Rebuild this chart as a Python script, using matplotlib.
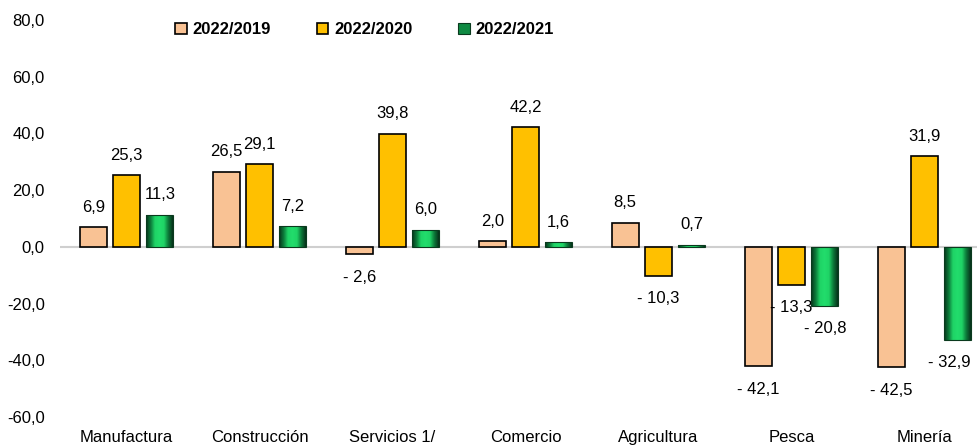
import numpy as np
import matplotlib
matplotlib.use("Agg")
import matplotlib.pyplot as plt
import matplotlib.patches as mpatches
from matplotlib.colors import LinearSegmentedColormap

plt.rcParams['font.family'] = ['Liberation Sans Narrow', 'Liberation Sans', 'DejaVu Sans']

categories = ['Manufactura', 'Construcción', 'Servicios 1/', 'Comercio',
              'Agricultura', 'Pesca', 'Minería']
series_names = ['2022/2019', '2022/2020', '2022/2021']
v2019 = [6.9, 26.5, -2.6, 2.0, 8.5, -42.1, -42.5]
v2020 = [25.3, 29.1, 39.8, 42.2, -10.3, -13.3, 31.9]
v2021 = [11.3, 7.2, 6.0, 1.6, 0.7, -20.8, -32.9]
yticks = [-60, -40, -20, 0, 20, 40, 60, 80]

PEACH = '#F9C294'
GOLD = '#FFC000'
GREEN = '#0f8a42'

green_cmap = LinearSegmentedColormap.from_list(
    'grn', ['#06331a', '#0c7a3a', '#1fd466', '#22dd6c', '#1fd466', '#0c7a3a', '#06331a'])


def fmt(v):
    s = f"{abs(v):.1f}".replace('.', ',')
    return f"- {s}" if v < 0 else s


fig = plt.figure(figsize=(9.77, 4.48), dpi=100)
# axes run a bit past the right edge, like the original
ax = fig.add_axes([60 / 977, 31 / 448, 931 / 977, 397 / 448])

x = np.arange(len(categories))
w = 0.2
step = 0.25

ax.bar(x - step, v2019, w, color=PEACH, edgecolor='black', lw=1.2, zorder=3)
ax.bar(x, v2020, w, color=GOLD, edgecolor='black', lw=1.2, zorder=3)
gbars = ax.bar(x + step, v2021, w, color='none', edgecolor='#0a3a1e', lw=0.8, zorder=4)

grad = np.linspace(0, 1, 64).reshape(1, -1)
for b in gbars:
    x0, y0 = b.get_x(), b.get_y()
    bw, bh = b.get_width(), b.get_height()
    im = ax.imshow(grad, cmap=green_cmap, aspect='auto', zorder=3.5,
                   extent=[x0, x0 + bw, min(y0, y0 + bh), max(y0, y0 + bh)])
    im.set_clip_path(b)

ax.axhline(0, color='#cfcfcf', lw=1.5, zorder=2)

xmax = 6.5
for vals, off in zip([v2019, v2020, v2021], [-step, 0, step]):
    for xi, v in zip(x, vals):
        # keep the label of the last bar inside the figure
        dx = -6 if xi + off > xmax - 0.35 else 0
        if v >= 0:
            ax.annotate(fmt(v), (xi + off, v), xytext=(dx, 9), textcoords='offset points',
                        ha='center', va='bottom', fontsize=12)
        else:
            ax.annotate(fmt(v), (xi + off, v), xytext=(dx, -11), textcoords='offset points',
                        ha='center', va='top', fontsize=12)

ax.set_xlim(-0.5, xmax)
ax.set_ylim(-60, 80)
ax.set_yticks(yticks)
ax.set_yticklabels([f"{t:.1f}".replace('.', ',') for t in yticks])
ax.set_xticks(x)
ax.set_xticklabels(categories)
ax.tick_params(axis='y', length=0, pad=11, labelsize=12)
ax.tick_params(axis='x', length=0, pad=9, labelsize=12)
for s in ax.spines.values():
    s.set_visible(False)

handles = [mpatches.Patch(facecolor=PEACH, edgecolor='black', lw=1.2),
           mpatches.Patch(facecolor=GOLD, edgecolor='black', lw=1.2),
           mpatches.Patch(facecolor=GREEN, edgecolor='#0a3a1e', lw=0.8)]
fig.legend(handles, series_names, loc='center left', bbox_to_anchor=(160 / 977, 1 - 30 / 448),
           ncol=3, frameon=False, handlelength=0.7, handleheight=0.7, handletextpad=0.35,
           columnspacing=2.75, prop={'weight': 'bold', 'size': 12})

fig.savefig('out.png', dpi=100, facecolor='white')
